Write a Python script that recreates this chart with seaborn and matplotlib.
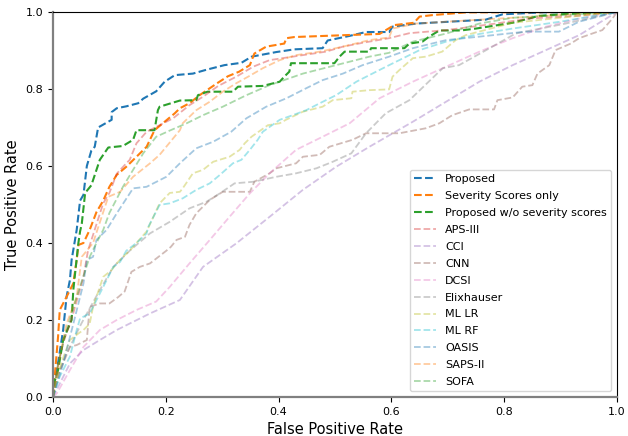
import matplotlib
matplotlib.use("Agg")
import matplotlib.pyplot as plt
import seaborn as sns
import pandas as pd

labels = ["Proposed", "Severity Scores only", "Proposed w/o severity scores",
          "APS-III", "CCI", "CNN", "DCSI", "Elixhauser", "ML LR", "ML RF",
          "OASIS", "SAPS-II", "SOFA"]

proposed_x = [0, 0.0, 0.007, 0.018, 0.024, 0.03, 0.033, 0.042, 0.048, 0.054, 0.06, 0.068, 0.074, 0.08, 0.104, 0.104, 0.113, 0.13, 0.151, 0.16, 0.183, 0.198, 0.216, 0.248, 0.272, 0.304, 0.334, 0.352, 0.396, 0.428, 0.478, 0.487, 0.526, 0.555, 0.596, 0.602, 0.644, 0.767, 0.797, 0.867, 1.0]
proposed_y = [0, 0.036, 0.07, 0.174, 0.26, 0.304, 0.356, 0.434, 0.51, 0.525, 0.60, 0.64, 0.65, 0.70, 0.72, 0.74, 0.75, 0.755, 0.763, 0.775, 0.794, 0.819, 0.836, 0.84, 0.85, 0.862, 0.868, 0.884, 0.896, 0.903, 0.906, 0.926, 0.938, 0.948, 0.948, 0.962, 0.97, 0.98, 0.994, 0.999, 1.0]

severity_x = [0, 0.004, 0.009, 0.012, 0.024, 0.036, 0.042, 0.045, 0.054, 0.065, 0.077, 0.089, 0.10, 0.113, 0.13, 0.148, 0.166, 0.18, 0.216, 0.225, 0.242, 0.26, 0.29, 0.31, 0.33, 0.349, 0.357, 0.378, 0.41, 0.414, 0.428, 0.52, 0.579, 0.605, 0.64, 0.65, 0.673, 0.732, 1.0]
severity_y = [0, 0.07, 0.157, 0.226, 0.26, 0.295, 0.356, 0.395, 0.40, 0.434, 0.48, 0.51, 0.546, 0.577, 0.598, 0.624, 0.65, 0.693, 0.737, 0.75, 0.763, 0.784, 0.814, 0.833, 0.845, 0.862, 0.892, 0.91, 0.918, 0.932, 0.935, 0.94, 0.943, 0.966, 0.972, 0.988, 0.992, 0.999, 1.0]

nosev_x = [0, 0.0, 0.009, 0.018, 0.033, 0.036, 0.045, 0.048, 0.051, 0.057, 0.068, 0.083, 0.098, 0.124, 0.142, 0.148, 0.18, 0.186, 0.189, 0.225, 0.254, 0.257, 0.274, 0.319, 0.328, 0.372, 0.402, 0.41, 0.419, 0.422, 0.499, 0.508, 0.517, 0.561, 0.564, 0.623, 0.632, 0.655, 0.667, 0.685, 0.723, 0.75, 0.815, 0.862, 0.909, 1.0]
nosev_y = [0, 0.027, 0.07, 0.148, 0.2, 0.278, 0.40, 0.43, 0.45, 0.53, 0.55, 0.616, 0.648, 0.652, 0.668, 0.693, 0.693, 0.745, 0.754, 0.77, 0.771, 0.784, 0.793, 0.793, 0.806, 0.808, 0.819, 0.832, 0.845, 0.867, 0.867, 0.884, 0.897, 0.897, 0.906, 0.906, 0.918, 0.923, 0.936, 0.952, 0.952, 0.957, 0.972, 0.99, 0.995, 1.0]

aps_x = [0, 0.007, 0.018, 0.036, 0.054, 0.062, 0.089, 0.10, 0.113, 0.13, 0.136, 0.148, 0.166, 0.189, 0.213, 0.242, 0.266, 0.293, 0.325, 0.355, 0.384, 0.443, 0.484, 0.514, 0.549, 0.596, 0.632, 0.697, 0.744, 0.785, 0.844, 0.93, 1.0]
aps_y = [0, 0.07, 0.14, 0.218, 0.312, 0.38, 0.503, 0.53, 0.58, 0.607, 0.616, 0.659, 0.689, 0.706, 0.724, 0.758, 0.78, 0.808, 0.832, 0.858, 0.875, 0.888, 0.897, 0.91, 0.92, 0.932, 0.945, 0.953, 0.962, 0.97, 0.983, 0.99, 1.0]

cci_x = [0, 0.03, 0.054, 0.083, 0.113, 0.172, 0.225, 0.266, 0.325, 0.384, 0.443, 0.502, 0.561, 0.638, 0.697, 0.756, 0.815, 0.874, 0.933, 1.0]
cci_y = [0, 0.087, 0.122, 0.148, 0.174, 0.217, 0.252, 0.338, 0.399, 0.468, 0.538, 0.598, 0.65, 0.715, 0.767, 0.819, 0.862, 0.901, 0.94, 1.0]

cnn_x = [0, 0.01, 0.03, 0.042, 0.06, 0.065, 0.083, 0.10, 0.116, 0.127, 0.139, 0.154, 0.172, 0.201, 0.209, 0.219, 0.234, 0.242, 0.254, 0.278, 0.301, 0.349, 0.357, 0.384, 0.396, 0.431, 0.443, 0.473, 0.49, 0.531, 0.555, 0.614, 0.661, 0.685, 0.708, 0.738, 0.782, 0.788, 0.815, 0.832, 0.85, 0.859, 0.88, 0.891, 0.918, 0.933, 0.956, 0.974, 0.992, 1.0]
cnn_y = [0, 0.06, 0.13, 0.135, 0.148, 0.234, 0.243, 0.243, 0.26, 0.274, 0.325, 0.338, 0.347, 0.38, 0.39, 0.408, 0.416, 0.447, 0.477, 0.512, 0.533, 0.533, 0.559, 0.581, 0.594, 0.607, 0.624, 0.629, 0.65, 0.668, 0.685, 0.685, 0.698, 0.711, 0.732, 0.747, 0.747, 0.771, 0.778, 0.806, 0.81, 0.84, 0.862, 0.901, 0.918, 0.932, 0.944, 0.953, 0.983, 1.0]

dcsi_x = [0, 0.007, 0.03, 0.054, 0.083, 0.113, 0.148, 0.183, 0.207, 0.242, 0.278, 0.313, 0.349, 0.384, 0.431, 0.478, 0.526, 0.579, 0.638, 0.697, 0.756, 0.815, 0.874, 0.933, 1.0]
dcsi_y = [0, 0.01, 0.07, 0.13, 0.174, 0.2, 0.226, 0.248, 0.286, 0.347, 0.408, 0.468, 0.529, 0.581, 0.642, 0.676, 0.711, 0.776, 0.819, 0.858, 0.897, 0.932, 0.962, 0.983, 1.0]

elix_x = [0, 0.007, 0.024, 0.05, 0.08, 0.107, 0.136, 0.172, 0.207, 0.242, 0.272, 0.296, 0.322, 0.355, 0.396, 0.431, 0.467, 0.496, 0.529, 0.555, 0.59, 0.632, 0.691, 0.72, 0.768, 0.82, 0.909, 1.0]
elix_y = [0, 0.053, 0.113, 0.19, 0.27, 0.338, 0.38, 0.425, 0.455, 0.49, 0.507, 0.529, 0.555, 0.559, 0.572, 0.581, 0.594, 0.611, 0.633, 0.685, 0.737, 0.771, 0.854, 0.862, 0.901, 0.944, 0.97, 1.0]

mllr_x = [0, 0.015, 0.03, 0.045, 0.054, 0.065, 0.071, 0.083, 0.089, 0.104, 0.113, 0.124, 0.136, 0.166, 0.189, 0.207, 0.225, 0.23, 0.248, 0.266, 0.284, 0.313, 0.331, 0.34, 0.352, 0.381, 0.402, 0.413, 0.443, 0.478, 0.496, 0.529, 0.531, 0.561, 0.596, 0.602, 0.614, 0.638, 0.661, 0.69, 0.714, 0.732, 0.815, 0.9, 1.0]
mllr_y = [0, 0.09, 0.148, 0.165, 0.174, 0.19, 0.234, 0.286, 0.312, 0.33, 0.347, 0.364, 0.38, 0.43, 0.503, 0.53, 0.533, 0.542, 0.581, 0.59, 0.611, 0.624, 0.642, 0.659, 0.676, 0.706, 0.711, 0.72, 0.741, 0.754, 0.771, 0.776, 0.793, 0.797, 0.799, 0.832, 0.849, 0.88, 0.884, 0.897, 0.927, 0.94, 0.972, 0.985, 1.0]

mlrf_x = [0, 0.012, 0.03, 0.042, 0.048, 0.065, 0.071, 0.098, 0.107, 0.119, 0.13, 0.148, 0.166, 0.169, 0.189, 0.207, 0.23, 0.254, 0.278, 0.296, 0.319, 0.334, 0.349, 0.363, 0.372, 0.402, 0.425, 0.449, 0.473, 0.502, 0.538, 0.573, 0.596, 0.614, 0.65, 0.697, 0.756, 0.815, 0.9, 1.0]
mlrf_y = [0, 0.053, 0.105, 0.174, 0.204, 0.217, 0.234, 0.312, 0.338, 0.351, 0.38, 0.40, 0.425, 0.442, 0.499, 0.503, 0.516, 0.538, 0.555, 0.577, 0.607, 0.616, 0.642, 0.668, 0.689, 0.72, 0.732, 0.745, 0.763, 0.784, 0.819, 0.845, 0.862, 0.875, 0.901, 0.923, 0.943, 0.957, 0.975, 1.0]

oasis_x = [0, 0.018, 0.036, 0.054, 0.06, 0.071, 0.077, 0.095, 0.113, 0.142, 0.166, 0.201, 0.225, 0.254, 0.284, 0.316, 0.343, 0.378, 0.414, 0.449, 0.478, 0.514, 0.549, 0.596, 0.638, 0.697, 0.756, 0.838, 0.897, 0.933, 1.0]
oasis_y = [0, 0.087, 0.19, 0.295, 0.356, 0.364, 0.408, 0.434, 0.477, 0.542, 0.546, 0.572, 0.607, 0.646, 0.663, 0.689, 0.724, 0.754, 0.776, 0.802, 0.823, 0.84, 0.862, 0.884, 0.906, 0.927, 0.936, 0.949, 0.949, 0.975, 1.0]

saps_x = [0, 0.012, 0.024, 0.042, 0.051, 0.071, 0.098, 0.119, 0.142, 0.172, 0.189, 0.225, 0.23, 0.254, 0.278, 0.301, 0.325, 0.346, 0.372, 0.402, 0.431, 0.473, 0.514, 0.561, 0.596, 0.602, 0.644, 0.756, 0.874, 1.0]
saps_y = [0, 0.105, 0.19, 0.26, 0.364, 0.40, 0.52, 0.533, 0.572, 0.607, 0.629, 0.693, 0.711, 0.745, 0.767, 0.793, 0.815, 0.832, 0.854, 0.875, 0.888, 0.897, 0.91, 0.927, 0.934, 0.957, 0.97, 0.98, 0.99, 1.0]

sofa_x = [0, 0.009, 0.024, 0.042, 0.065, 0.077, 0.089, 0.10, 0.124, 0.142, 0.16, 0.183, 0.207, 0.237, 0.266, 0.301, 0.343, 0.384, 0.443, 0.502, 0.561, 0.596, 0.638, 0.697, 0.756, 0.815, 1.0]
sofa_y = [0, 0.087, 0.174, 0.26, 0.364, 0.40, 0.434, 0.478, 0.546, 0.59, 0.633, 0.676, 0.692, 0.711, 0.732, 0.754, 0.784, 0.81, 0.84, 0.862, 0.884, 0.894, 0.923, 0.944, 0.97, 0.985, 1.0]

curves_x = [proposed_x, severity_x, nosev_x, aps_x, cci_x, cnn_x, dcsi_x,
            elix_x, mllr_x, mlrf_x, oasis_x, saps_x, sofa_x]
curves_y = [proposed_y, severity_y, nosev_y, aps_y, cci_y, cnn_y, dcsi_y,
            elix_y, mllr_y, mlrf_y, oasis_y, saps_y, sofa_y]

base_colors = ["tab:blue", "tab:orange", "tab:green", "tab:red", "tab:purple",
               "tab:brown", "tab:pink", "tab:gray", "tab:olive", "tab:cyan",
               "tab:blue", "tab:orange", "tab:green"]

fig = plt.figure(figsize=(6.28, 4.36), dpi=100)
ax = fig.add_axes([53 / 628, 39 / 436, 564 / 628, 385 / 436])

for i, (lab, xs, ys) in enumerate(zip(labels, curves_x, curves_y)):
    df = pd.DataFrame({"fpr": xs, "tpr": ys})
    strong = i < 3
    sns.lineplot(data=df, x="fpr", y="tpr", ax=ax, sort=False, estimator=None,
                 color=base_colors[i], alpha=1.0 if strong else 0.4,
                 linewidth=1.5 if strong else 1.3, linestyle="--", label=lab)

ax.set_xlim(0, 1)
ax.set_ylim(0, 1)
ax.set_xlabel("False Positive Rate", fontsize=10.5)
ax.set_ylabel("True Positive Rate", fontsize=10.5)
ax.tick_params(labelsize=8)
for s in ["left", "bottom"]:
    ax.spines[s].set_color("#808080")
    ax.spines[s].set_linewidth(1.6)
ax.legend(loc="lower right", fontsize=8, labelspacing=0.62)

fig.savefig("out.png", dpi=100)
